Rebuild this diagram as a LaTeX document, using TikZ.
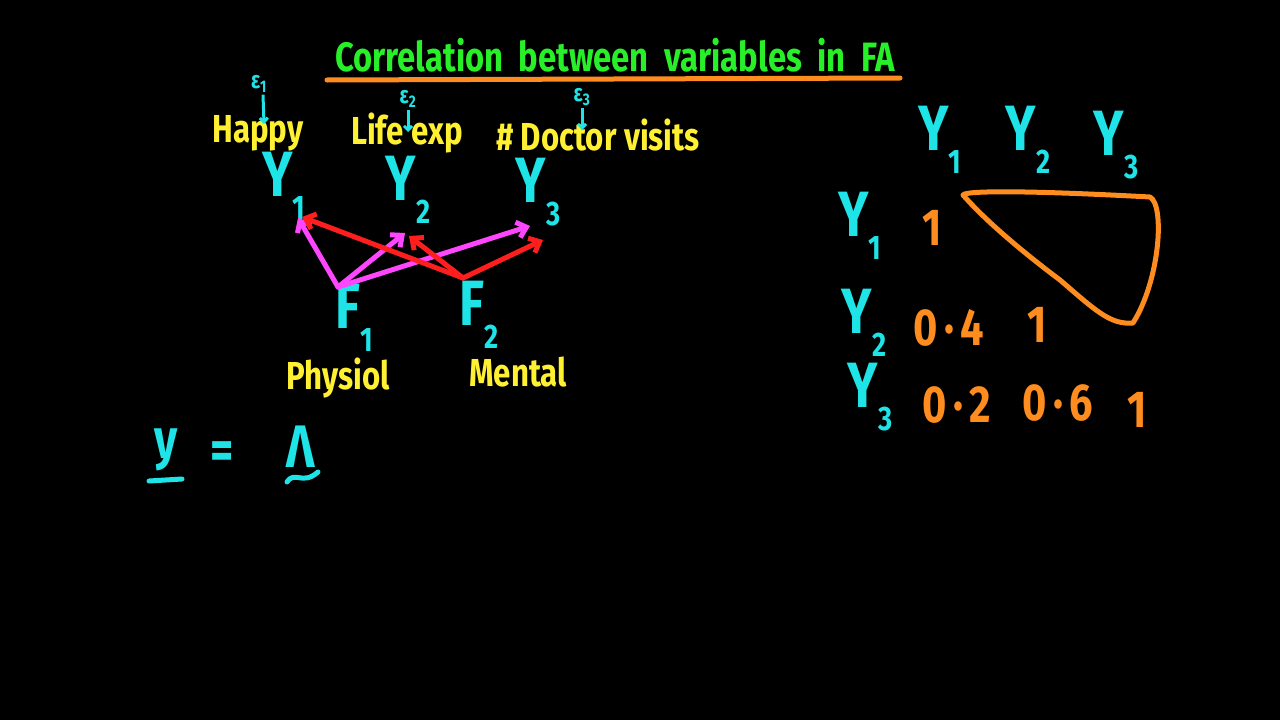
\documentclass[tikz,border=0pt]{standalone}
\usepackage{fontspec}
\setmainfont{Fira Sans}
\newfontfamily\hand[FakeStretch=0.8]{Fira Sans}
\usetikzlibrary{arrows.meta}
\definecolor{cy}{RGB}{30,228,232}
\definecolor{yl}{RGB}{255,240,50}
\definecolor{gr}{RGB}{40,240,40}
\definecolor{orng}{RGB}{255,140,30}
\definecolor{mg}{RGB}{255,70,255}
\definecolor{rd}{RGB}{255,30,30}
\newcommand\fs[1]{\fontsize{#1}{#1}\selectfont}
\newcommand\lo[1]{\raisebox{-0.35em}{\fs{34}#1}}
\newcommand\dt{\hspace{0.12em}·\hspace{0.12em}}
\begin{document}
\begin{tikzpicture}[x=1pt,y=-1pt,
  every node/.style={inner sep=0pt,anchor=center,font=\hand\bfseries},
  title/.style={text=gr,font=\hand\bfseries\fs{41}},
  lbl/.style={text=yl,font=\hand\bfseries\fs{39}},
  var/.style={text=cy,font=\hand\bfseries\fs{64}},
  num/.style={text=orng,font=\hand\bfseries\fs{52}},
  eps/.style={text=cy,font=\hand\bfseries\fs{24}},
  epsarrow/.style={cy,line width=3pt,-{Straight Barb[length=4pt,width=8pt]}},
  load/.style={line width=5pt,line cap=round,-{Straight Barb[length=9pt,width=16pt,line width=5pt]}},
  pen/.style={line width=5pt,line cap=round,line join=round}]
\useasboundingbox (0,0) rectangle (1280,720);
\fill[black] (0,0) rectangle (1280,720);
% title
\node[title] (title) at (615,55) {Correlation\ \ between\ \ variables\ \ in\ \ FA};
\coordinate (ul1) at (327,80);
\coordinate (ul2) at (900,78);
\draw[orng,pen] (ul1) -- (ul2);
% labels
\node[lbl] (happy) at (258,133) {Happy};
\node[lbl] (life) at (407,133) {Life exp};
\node[lbl] (doc) at (598,135) {\# Doctor visits};
% epsilons
\node[eps] (e1) at (259,84) {ε\textsubscript{1}};
\node[eps] (e2) at (408,99) {ε\textsubscript{2}};
\node[eps] (e3) at (582,97) {ε\textsubscript{3}};
\coordinate (e1t) at (264,124);
\coordinate (e2t) at (408,132);
\coordinate (e3t) at (582,130);
\draw[epsarrow] (e1.south) ++(4,2) -- (e1t);
\draw[epsarrow] (e2.south) ++(0,2) -- (e2t);
\draw[epsarrow] (e3.south) ++(0,2) -- (e3t);
% observed variables
\node[var] (y1) at (284,186) {Y\lo{1}};
\node[var] (y2) at (408,190) {Y\lo{2}};
\node[var] (y3) at (538,192) {Y\lo{3}};
% factors
\node[var] (f1) at (354,318) {F\lo{1}};
\node[var] (f2) at (479,315) {F\lo{2}};
\node[lbl] (phys) at (338,378) {Physiol};
\node[lbl] (ment) at (518,372) {Mental};
% arrow anchor points
\coordinate (f1o) at (338,287);
\coordinate (f2o) at (463,278);
\coordinate (y1m) at (298,218);
\coordinate (y2m) at (405,233);
\coordinate (y3m) at (530,226);
\coordinate (y1r) at (302,217);
\coordinate (y2r) at (409,236);
\coordinate (y3r) at (543,240);
\draw[mg,load] (f1o) -- (y1m);
\draw[mg,load] (f1o) -- (y2m);
\draw[mg,load] (f1o) -- (y3m);
\draw[rd,load] (f2o) -- (y1r);
\draw[rd,load] (f2o) -- (y2r);
\draw[rd,load] (f2o) -- (y3r);
% equation
\node[var,font=\hand\bfseries\fs{56}] (ybold) at (166,450) {y};
\coordinate (yu1) at (149,481);
\coordinate (yu2) at (182,479);
\draw[cy,pen] (yu1) -- (yu2);
\node[var,font=\hand\bfseries\fs{56}] (eq) at (222,456) {=};
\node[var,font=\hand\bfseries\fs{60}] (lam) at (301,447) {Λ};
\coordinate (t1) at (287,482);
\coordinate (t2) at (318,472);
\draw[cy,pen] (t1) .. controls (295,470) and (302,486) .. (t2);
% correlation matrix
\node[var] (c1) at (940,140) {Y\lo{1}};
\node[var] (c2) at (1028,140) {Y\lo{2}};
\node[var] (c3) at (1116,145) {Y\lo{3}};
\node[var] (r1) at (860,226) {Y\lo{1}};
\node[var] (r2) at (864,323) {Y\lo{2}};
\node[var] (r3) at (870,397) {Y\lo{3}};
\node[num] (m11) at (932,228) {1};
\node[num] (m21) at (949,328) {0\dt4};
\node[num] (m22) at (1037,325) {1};
\node[num] (m31) at (957,405) {0\dt2};
\node[num] (m32) at (1058,403) {0\dt6};
\node[num] (m33) at (1137,410) {1};
\coordinate (p1) at (963,195);
\coordinate (p2) at (1150,197);
\coordinate (p3) at (1133,323);
\draw[orng,pen] (p1) .. controls (966,190) and (1040,191) .. (p2)
  .. controls (1165,205) and (1160,280) .. (p3)
  .. controls (1110,325) and (1095,310) .. (1060,280)
  .. controls (1020,250) and (985,220) .. (p1);
\end{tikzpicture}
\end{document}
